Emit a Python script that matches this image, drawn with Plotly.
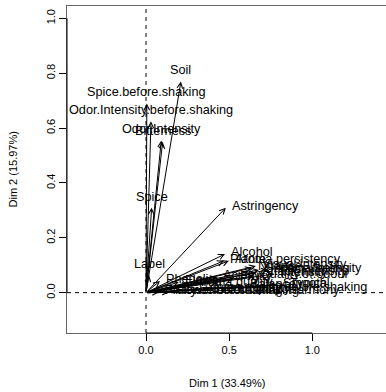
import plotly.graph_objects as go

# ---- data: variable coordinates on Dim 1 / Dim 2 ----
top_vars = ["Soil", "Spice.before.shaking", "Odor.Intensity.before.shaking",
            "Odor.Intensity", "Bitterness", "Spice", "Label"]
top_x = [0.21, 0.005, 0.03, 0.092, 0.1, 0.034, 0.018]
top_y = [0.77, 0.69, 0.625, 0.555, 0.55, 0.31, 0.065]

right_vars = ["Astringency", "Alcohol", "Plante", "Aroma.persistency", "Visual.intensity",
              "Nuance", "Surface.feeling", "Aroma.intensity", "Attack.intensity",
              "Intensity", "Quality.of.odour", "Acidity", "Fruity", "Phenolic", "Flower",
              "Aroma.quality", "Smooth", "Typical", "Balance",
              "Aroma.quality.before.shaking", "Overall.quality",
              "Flower.before.shaking", "Fruity.before.shaking", "Harmony"]
right_x = [0.48, 0.475, 0.469, 0.499, 0.661, 0.637, 0.679, 0.734, 0.661, 0.770, 0.649,
           0.427, 0.529, 0.084, 0.198, 0.259, 0.788, 0.830, 0.589, 0.313, 0.349,
           0.138, 0.078, 0.818]
right_y = [0.31, 0.141, 0.116, 0.116, 0.097, 0.090, 0.083, 0.083, 0.072, 0.068, 0.061,
           0.057, 0.053, 0.043, 0.039, 0.032, 0.028, 0.028, 0.024, 0.013, 0.010,
           0.002, 0.002, 0.002]

x_ticks = [0.0, 0.5, 1.0]
y_ticks = [0.0, 0.2, 0.4, 0.6, 0.8, 1.0]
x_title = "Dim 1 (33.49%)"
y_title = "Dim 2 (15.97%)"

FONT = "Liberation Sans, Arial, Helvetica, sans-serif"
LAB = 12.7
AX = 11

fig = go.Figure()
fig.add_trace(go.Scatter(x=[0], y=[0], mode="markers", marker=dict(opacity=0),
                         hoverinfo="skip", showlegend=False))

ann = []
def arrow(x, y):
    ann.append(dict(x=x, y=y, ax=0, ay=0, xref="x", yref="y", axref="x", ayref="y",
                    text="", showarrow=True, arrowhead=5, arrowsize=1.1,
                    arrowwidth=1, arrowcolor="black", standoff=0, startstandoff=0))

for n, x, y in zip(top_vars, top_x, top_y):
    arrow(x, y)
    ann.append(dict(x=x, y=y, xref="x", yref="y", text=n, showarrow=False,
                    xanchor="center", yanchor="bottom", yshift=2,
                    font=dict(family=FONT, size=LAB, color="black")))
for n, x, y in zip(right_vars, right_x, right_y):
    arrow(x, y)
    ann.append(dict(x=x, y=y, xref="x", yref="y", text=n, showarrow=False,
                    xanchor="left", yanchor="middle", xshift=4, yshift=2,
                    font=dict(family=FONT, size=LAB, color="black")))

# axis titles
ann.append(dict(x=0.5, y=0, xref="paper", yref="paper", text=x_title, showarrow=False,
                xanchor="center", yanchor="middle", yshift=-50,
                font=dict(family=FONT, size=AX, color="black")))
ann.append(dict(x=0, y=0.5, xref="paper", yref="paper", text=y_title, showarrow=False,
                xanchor="center", yanchor="middle", xshift=-55, textangle=-90,
                font=dict(family=FONT, size=AX, color="black")))

shapes = [
    dict(type="line", xref="x", yref="paper", x0=0, x1=0, y0=0, y1=1,
         line=dict(color="black", width=1, dash="4px,4px")),
    dict(type="line", xref="paper", yref="y", x0=0, x1=1, y0=0, y1=0,
         line=dict(color="black", width=1, dash="4px,4px")),
    dict(type="line", xref="paper", yref="y", x0=0, x1=0, y0=0, y1=1,
         line=dict(color="black", width=1)),
    dict(type="line", xref="x", yref="paper", x0=0, x1=1, y0=0, y1=0,
         line=dict(color="black", width=1)),
]

fig.update_layout(
    width=386, height=392,
    margin=dict(l=67, r=0, t=6, b=59, autoexpand=False),
    paper_bgcolor="white", plot_bgcolor="white",
    font=dict(family=FONT, color="black"),
    annotations=ann, shapes=shapes, showlegend=False,
    xaxis=dict(range=[-0.475, 1.443], tickvals=x_ticks, ticktext=["0.0", "0.5", "1.0"],
               showgrid=False, zeroline=False, showline=True, mirror=True,
               linecolor="#666", linewidth=1, ticks="outside", ticklen=7,
               tickcolor="black", tickfont=dict(size=AX, family=FONT), automargin=False),
    yaxis=dict(range=[-0.147, 1.045], tickvals=y_ticks,
               ticktext=["0.0", "0.2", "0.4", "0.6", "0.8", "1.0"],
               showgrid=False, zeroline=False, showline=True, mirror=False,
               linecolor="#666", linewidth=1, ticks="outside", ticklen=7,
               tickcolor="black", tickangle=-90, tickfont=dict(size=AX, family=FONT),
               automargin=False),
)

fig.write_html("out.html", config={"displayModeBar": False},
               post_script="document.body.style.margin='0';document.body.style.padding='0';")
